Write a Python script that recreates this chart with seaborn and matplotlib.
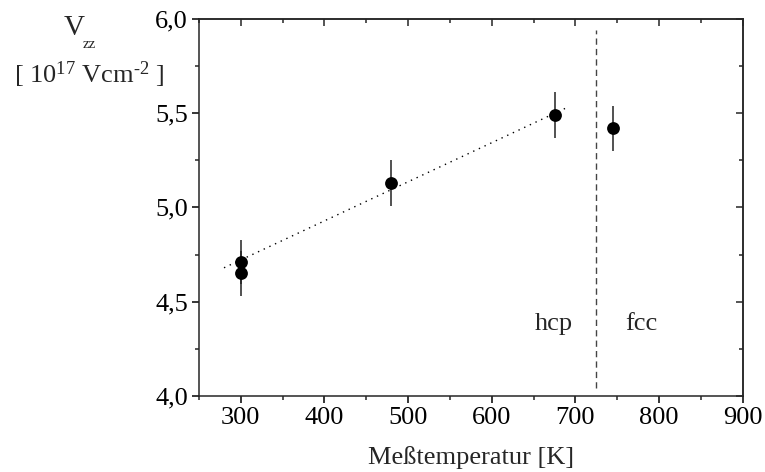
import numpy as np
import pandas as pd
import seaborn as sns
import matplotlib.pyplot as plt
from matplotlib.ticker import MultipleLocator, FuncFormatter

# measured values
temps = [300, 300, 480, 675, 745]
vzz = [4.71, 4.65, 5.13, 5.49, 5.42]
vzz_err = [0.115, 0.12, 0.12, 0.12, 0.12]
phase = ["hcp", "hcp", "hcp", "hcp", "fcc"]

# linear fit through hcp points (end points)
fit_t = [280, 690]
fit_v = [4.68, 5.53]

# phase boundary
boundary_t = 725
boundary_v = [4.04, 5.94]

df = pd.DataFrame({"T": temps, "Vzz": vzz, "err": vzz_err, "phase": phase})

sns.set_style("ticks")
plt.rcParams["font.family"] = ["Liberation Serif", "DejaVu Serif"]
plt.rcParams["mathtext.default"] = "regular"
plt.rcParams["axes.linewidth"] = 1.1

fig = plt.figure(figsize=(7.65, 4.72), dpi=100)
ax = fig.add_axes([0.26, 0.161, 0.711, 0.799])

ax.plot(fit_t, fit_v, color="black", linestyle=(0, (1, 3.5)), linewidth=1.0)
ax.plot([boundary_t, boundary_t], boundary_v, color="#444444",
        linestyle=(0, (4.5, 3)), linewidth=1.0)
ax.errorbar(df["T"], df["Vzz"], yerr=df["err"], fmt="none",
            ecolor="#222222", elinewidth=1.1, capsize=0)
sns.scatterplot(data=df, x="T", y="Vzz", ax=ax, color="black", s=85,
                edgecolor="black", linewidth=0, legend=False, zorder=3)

ax.text(651, 4.35, "hcp", ha="left", va="baseline", fontsize=19)
ax.text(759, 4.35, "fcc", ha="left", va="baseline", fontsize=19)

ax.set_xlim(250, 900)
ax.set_ylim(4.0, 6.0)
ax.xaxis.set_major_locator(MultipleLocator(100))
ax.xaxis.set_minor_locator(MultipleLocator(50))
ax.yaxis.set_major_locator(MultipleLocator(0.5))
ax.yaxis.set_minor_locator(MultipleLocator(0.25))
ax.yaxis.set_major_formatter(FuncFormatter(lambda v, p: f"{v:.1f}".replace(".", ",")))
ax.xaxis.set_major_formatter(FuncFormatter(lambda v, p: "" if v < 300 else f"{v:.0f}"))

ax.tick_params(which="major", direction="out", length=5, width=1.1,
               labelsize=19, pad=3, colors="black")
ax.tick_params(which="minor", direction="out", length=3, width=1.1)

for side in ["top", "right"]:
    sec = ax.secondary_xaxis("top") if side == "top" else ax.secondary_yaxis("right")
    axis = sec.xaxis if side == "top" else sec.yaxis
    axis.set_major_locator(MultipleLocator(100 if side == "top" else 0.5))
    axis.set_minor_locator(MultipleLocator(50 if side == "top" else 0.25))
    sec.tick_params(which="major", direction="in", length=5, width=1.1,
                    labelleft=False, labelright=False, labeltop=False, labelbottom=False)
    sec.tick_params(which="minor", direction="in", length=3, width=1.1)

sns.despine(ax=ax, top=False, right=False)
ax.set_xlabel("Meßtemperatur [K]", fontsize=19, labelpad=12)
ax.set_ylabel("")

fig.text(0.097, 0.94, "V", ha="center", va="center", fontsize=21)
fig.text(0.117, 0.905, "zz", ha="center", va="center", fontsize=11)
fig.text(0.116, 0.842, "[ 10$^{17}$ Vcm$^{\u20102}$ ]", ha="center", va="center", fontsize=19)

fig.savefig("out.png", dpi=100)
